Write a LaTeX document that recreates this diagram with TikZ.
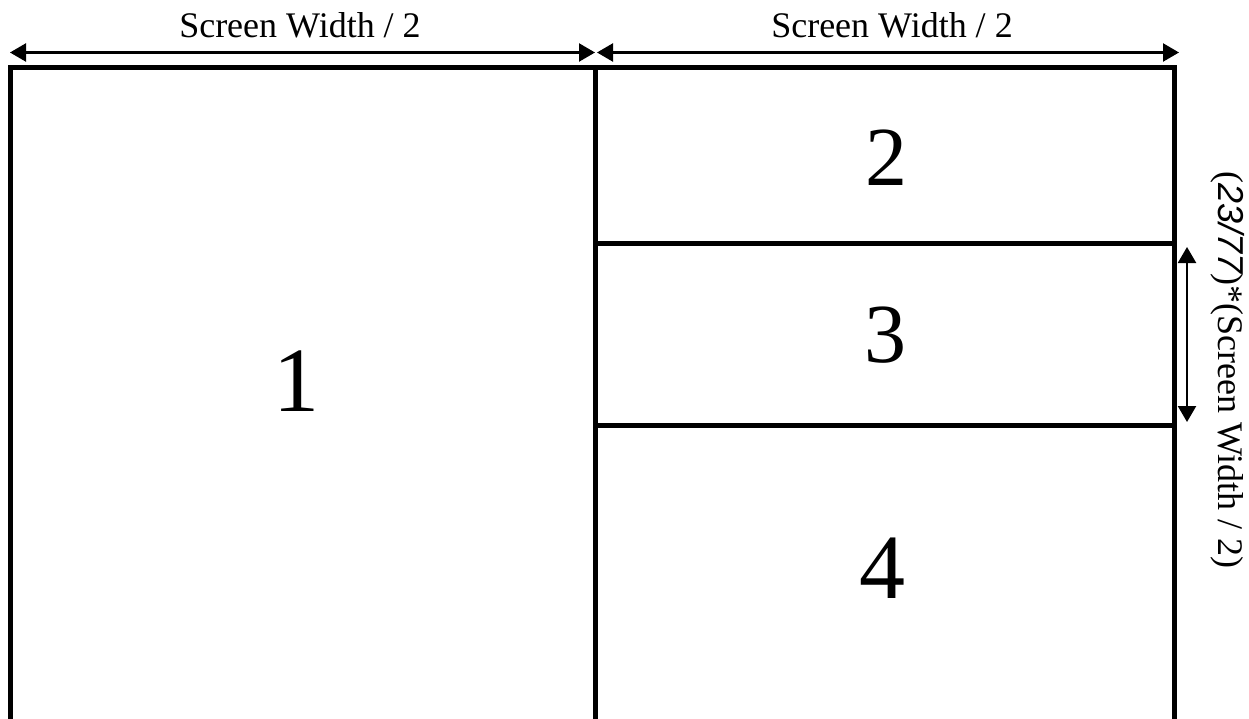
\documentclass[tikz,border=0pt]{standalone}
\usepackage{fontspec}
\setmainfont{Liberation Serif}
\newfontfamily\arialfont{Liberation Sans}
\usetikzlibrary{arrows.meta}
\begin{document}
\begin{tikzpicture}[x=1pt,y=-1pt,
  boxline/.style={line width=5pt,line cap=rect},
  dimarrow/.style={line width=2.3pt,{Triangle[length=16pt,width=18pt]}-{Triangle[length=16pt,width=18pt]}},
  lbl/.style={font=\fontsize{36}{40}\selectfont,inner sep=0pt},
  bignum/.style={font=\fontsize{92}{100}\selectfont,inner sep=0pt},
  midnum/.style={font=\fontsize{84}{92}\selectfont,inner sep=0pt}]
\useasboundingbox (0,0) rectangle (1249,719);
\clip (0,0) rectangle (1249,719);
% box
\coordinate (TL) at (10,68);
\coordinate (TM) at (595.5,68);
\coordinate (TR) at (1174,68);
\coordinate (BL) at (10,730);
\coordinate (BM) at (595.5,730);
\coordinate (BR) at (1174,730);
\coordinate (L2a) at (595.5,244);
\coordinate (L2b) at (1174,244);
\coordinate (L3a) at (595.5,425.5);
\coordinate (L3b) at (1174,425.5);
\draw[boxline] (BL) -- (TL) -- (TR) -- (BR);
\draw[boxline] (TM) -- (BM);
\draw[boxline] (L2a) -- (L2b);
\draw[boxline] (L3a) -- (L3b);
% top dimension arrows
\coordinate (A1) at (10,52.5);
\coordinate (A2) at (595,52.5);
\coordinate (A3) at (597,52.5);
\coordinate (A4) at (1179,52.5);
\draw[dimarrow] (A1) -- (A2);
\draw[dimarrow] (A3) -- (A4);
\node[lbl] (w1) at (300,25) {Screen Width / 2};
\node[lbl] (w2) at (892,25) {Screen Width / 2};
% right dimension arrow
\coordinate (V1) at (1187,247);
\coordinate (V2) at (1187,422);
\draw[dimarrow] (V1) -- (V2);
\node[lbl,rotate=-90] (h) at (1228,370) {({\arialfont\itshape 23/77})*(Screen Width / 2)};
% numbers
\node[bignum] (n1) at (296,381) {1};
\node[midnum] (n2) at (886,158) {2};
\node[midnum] (n3) at (885,335) {3};
\node[bignum] (n4) at (882,568) {4};
\end{tikzpicture}
\end{document}
